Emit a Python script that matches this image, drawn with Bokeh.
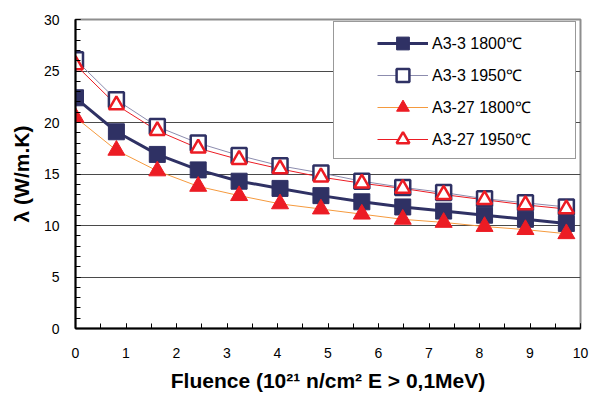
from bokeh.plotting import figure
from bokeh.models import (Legend, LegendItem, SingleIntervalTicker, Range1d)
from bokeh.embed import file_html
from bokeh.resources import INLINE

# ---- data ----
fluence = [0, 0.81, 1.62, 2.43, 3.24, 4.05, 4.86, 5.67, 6.48, 7.29, 8.10, 8.91, 9.72]
a3_3_1800 = [22.4, 19.1, 16.9, 15.4, 14.3, 13.6, 12.9, 12.3, 11.8, 11.4, 11.0, 10.6, 10.2]
a3_3_1950 = [26.1, 22.2, 19.6, 18.0, 16.8, 15.8, 15.1, 14.3, 13.7, 13.2, 12.6, 12.2, 11.8]
a3_27_1800 = [20.5, 17.3, 15.3, 13.8, 12.9, 12.1, 11.6, 11.1, 10.6, 10.3, 9.9, 9.6, 9.2]
a3_27_1950 = [25.6, 21.7, 19.2, 17.5, 16.4, 15.5, 14.7, 14.1, 13.6, 13.0, 12.5, 12.0, 11.6]
labels = ["A3-3 1800\u2103", "A3-3 1950\u2103", "A3-27 1800\u2103", "A3-27 1950\u2103"]

NAVY = "#2F3164"
RED = "#EC1C24"
ORANGE = "#F59A3E"
LIGHT = "#8C8CAE"
FONT = "Liberation Sans"

p = figure(width=598, height=394, output_backend="svg", toolbar_location=None,
           x_range=Range1d(0, 10), y_range=Range1d(0, 30),
           min_border_left=75, min_border_right=18, min_border_top=19, min_border_bottom=65)
p.background_fill_color = "white"
p.border_fill_color = "white"
p.outline_line_color = "#8E8E8E"
p.outline_line_width = 2

# lines
l1 = p.line(fluence, a3_3_1800, line_color=NAVY, line_width=3)
l2 = p.line(fluence, a3_3_1950, line_color=LIGHT, line_width=1)
l3 = p.line(fluence, a3_27_1800, line_color=ORANGE, line_width=1)
l4 = p.line(fluence, a3_27_1950, line_color=RED, line_width=1)

# markers
m1 = p.scatter(fluence, a3_3_1800, marker="square", size=16, fill_color=NAVY, line_color=NAVY, line_width=1)
m2 = p.scatter(fluence, a3_3_1950, marker="square", size=15, fill_color="white", line_color=NAVY, line_width=2.5)
m3 = p.scatter(fluence, a3_27_1800, marker="triangle", size=17, fill_color=RED, line_color=RED, line_width=1)
m4 = p.scatter(fluence, a3_27_1950, marker="triangle", size=15, fill_color="white", line_color=RED, line_width=2.5)

# axes
for ax in (p.xaxis[0], p.yaxis[0]):
    ax.axis_line_color = "black"
    ax.axis_line_width = 2
    ax.major_tick_in = 5
    ax.major_tick_out = 0
    ax.minor_tick_in = 5
    ax.minor_tick_out = 0
    ax.major_tick_line_color = "black"
    ax.minor_tick_line_color = "black"
    ax.major_label_text_font = FONT
    ax.major_label_text_font_size = "14px"
    ax.major_label_text_color = "black"
    ax.axis_label_text_font = FONT
    ax.axis_label_text_font_size = "21px"
    ax.axis_label_text_font_style = "bold"
    ax.axis_label_text_color = "black"

p.xaxis[0].ticker = SingleIntervalTicker(interval=1, num_minor_ticks=2)
p.yaxis[0].ticker = SingleIntervalTicker(interval=5, num_minor_ticks=5)
p.xaxis[0].major_label_standoff = 19
p.xaxis[0].axis_label_standoff = 8
p.yaxis[0].major_label_standoff = 16
p.yaxis[0].axis_label_standoff = 8
p.xaxis[0].axis_label = "Fluence (10\u00b2\u00b9 n/cm\u00b2 E > 0,1MeV)"
p.yaxis[0].axis_label = "\u03bb (W/m.K)"

p.xgrid.grid_line_color = None
p.ygrid[0].ticker = SingleIntervalTicker(interval=5)
p.ygrid.grid_line_color = "#4A4A4A"
p.ygrid.grid_line_width = 1

# legend box (frame only)
box = Legend(items=[LegendItem(label=" ", renderers=[])],
             location=(258, 169), padding=0, margin=0, spacing=0,
             glyph_width=0, glyph_height=136, label_height=136, label_width=241,
             label_standoff=0, border_line_color="#333333", border_line_width=1.5,
             background_fill_color="white", background_fill_alpha=1.0,
             label_text_alpha=0)
p.add_layout(box, "center")

# legend content
leg = Legend(items=[LegendItem(label=labels[0], renderers=[l1, m1]),
                    LegendItem(label=labels[1], renderers=[l2, m2]),
                    LegendItem(label=labels[2], renderers=[l3, m3]),
                    LegendItem(label=labels[3], renderers=[l4, m4])],
             location=(298, 169), padding=4, margin=0, spacing=0,
             glyph_width=51, glyph_height=32, label_height=32, label_width=100,
             label_standoff=4, border_line_alpha=0, background_fill_alpha=0,
             label_text_font=FONT, label_text_font_size="16px", label_text_color="black")
p.add_layout(leg, "center")

open("out.html", "w").write(file_html(p, INLINE))
